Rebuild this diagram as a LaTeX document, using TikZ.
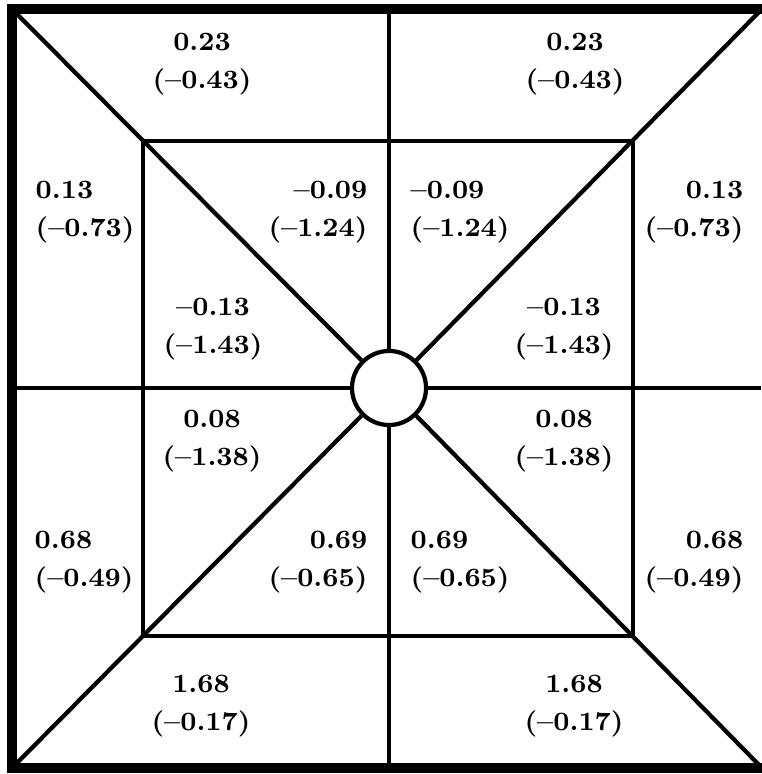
\documentclass[tikz,border=0pt]{standalone}
\begin{document}
\begin{tikzpicture}[x=0.01cm,y=-0.01cm,
  every node/.style={font=\bfseries\fontsize{7.5}{10.8}\selectfont, inner sep=0pt, align=center},
  gridline/.style={line width=1.2pt},
  hub/.style={circle, draw, fill=white, line width=1.2pt, minimum size=0.74cm}]
  \useasboundingbox (0,0) rectangle (761,774);
  \coordinate (otl) at (12,9);
  \coordinate (otr) at (762,9);
  \coordinate (obl) at (12,768);
  \coordinate (obr) at (762,768);
  \node[hub] (c) at (389,388) {};
  \draw[line width=2.8pt] (12,9) rectangle (772,768);
  \draw[gridline] (143,141) rectangle (633,636);
  \draw[gridline] (389,9) -- (c) -- (389,768);
  \draw[gridline] (12,388) -- (c) -- (761,388);
  \draw[gridline] (otl) -- (c) -- (obr);
  \draw[gridline] (otr) -- (c) -- (obl);
  \node (tl) at (202,64) {0.23\\(--0.43)};
  \node (tr) at (575,64) {0.23\\(--0.43)};
  \node[anchor=west, align=left] (ul) at (35,212) {0.13\\(--0.73)};
  \node[anchor=east, align=right] (ur) at (744,212) {0.13\\(--0.73)};
  \node[anchor=east, align=right] (uil) at (368,212) {--0.09\\(--1.24)};
  \node[anchor=west, align=left] (uir) at (410,212) {--0.09\\(--1.24)};
  \node (ml) at (213,329) {--0.13\\(--1.43)};
  \node (mr) at (564,329) {--0.13\\(--1.43)};
  \node (nl) at (212,441) {0.08\\(--1.38)};
  \node (nr) at (564,441) {0.08\\(--1.38)};
  \node[anchor=west, align=left] (ll) at (34,562) {0.68\\(--0.49)};
  \node[anchor=east, align=right] (lr) at (744,562) {0.68\\(--0.49)};
  \node[anchor=east, align=right] (lil) at (368,562) {0.69\\(--0.65)};
  \node[anchor=west, align=left] (lir) at (410,562) {0.69\\(--0.65)};
  \node (bl) at (201,706) {1.68\\(--0.17)};
  \node (br) at (574,706) {1.68\\(--0.17)};
\end{tikzpicture}
\end{document}
